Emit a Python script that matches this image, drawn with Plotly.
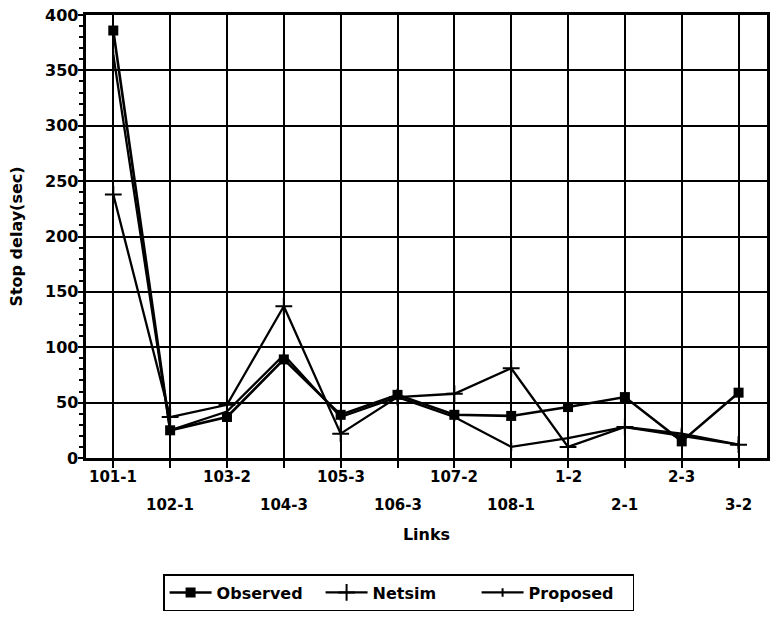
import plotly.graph_objects as go

# Links (road segments) along the x axis
links = ["101-1", "102-1", "103-2", "104-3", "105-3", "106-3",
         "107-2", "108-1", "1-2", "2-1", "2-3", "3-2"]

# Stop delay in seconds per link
observed = [386, 25, 37, 89, 39, 57, 39, 38, 46, 55, 15, 59]
netsim = [238, 37, 48, 137, 22, 55, 58, 81, 10, 28, 20, 12]
proposed = [364, 25, 42, 93, 37, 55, 37, 10, 18, 28, 22, 12]

y_ticks = [0, 50, 100, 150, 200, 250, 300, 350, 400]

FONT = "DejaVu Sans, Arial, sans-serif"
INK = "black"

fig = go.Figure()
fig.add_trace(go.Scatter(
    x=links, y=observed, name="Observed", mode="lines+markers",
    line=dict(color=INK, width=2.6),
    marker=dict(symbol="square", size=10, color=INK),
))
fig.add_trace(go.Scatter(
    x=links, y=netsim, name="Netsim", mode="lines+markers",
    line=dict(color=INK, width=2.3),
    marker=dict(symbol="cross-thin", size=12, color=INK,
                line=dict(color=INK, width=2)),
))
fig.add_trace(go.Scatter(
    x=links, y=proposed, name="Proposed", mode="lines+markers",
    line=dict(color=INK, width=2.3),
    marker=dict(symbol="line-ns", size=6, color=INK,
                line=dict(color=INK, width=2)),
))

label_font = dict(family=FONT, size=16, color=INK, weight="bold")

# Staggered category labels: even links on the first row, odd links below
annotations = []
for i, name in enumerate(links):
    annotations.append(dict(
        x=name, xref="x", y=-0.043 if i % 2 == 0 else -0.107, yref="paper",
        text=name, showarrow=False, xanchor="center", yanchor="middle",
        font=dict(family=FONT, size=15, color=INK, weight="bold"),
    ))
# Value labels sitting right against the short outside ticks
for v in y_ticks:
    annotations.append(dict(
        x=0, xref="paper", xshift=-6, y=v, yref="y",
        text=str(v), showarrow=False, xanchor="right", yanchor="middle",
        font=label_font,
    ))

fig.update_layout(
    width=771, height=622,
    margin=dict(l=86, r=1, t=15, b=164),
    paper_bgcolor="white", plot_bgcolor="white",
    font=dict(family=FONT, size=15, color=INK, weight="bold"),
    annotations=annotations,
    showlegend=True,
    legend=dict(
        orientation="h", x=0.459, xanchor="center", y=-0.262, yanchor="top",
        bordercolor=INK, borderwidth=1.5, bgcolor="white",
        font=dict(family=FONT, size=16, color=INK, weight="bold"),
        itemwidth=42, entrywidth=99, entrywidthmode="pixels",
        tracegroupgap=0,
    ),
)

fig.update_xaxes(
    type="category", range=[-0.48, 11.5],
    tickmode="array", tickvals=links, showticklabels=False,
    ticks="outside", ticklen=7, tickwidth=2, tickcolor=INK,
    showgrid=True, gridcolor=INK, gridwidth=1.9,
    showline=True, linecolor=INK, linewidth=2.8, mirror=True,
    zeroline=False,
    title=dict(text="Links", standoff=62,
               font=dict(family=FONT, size=16, color=INK, weight="bold")),
)
fig.update_yaxes(
    range=[0, 400], tickmode="array", tickvals=y_ticks,
    showticklabels=False,
    ticks="outside", ticklen=5, tickwidth=2, tickcolor=INK,
    minor=dict(dtick=10, ticks="outside", ticklen=4, tickwidth=1.5,
               tickcolor=INK, showgrid=False),
    showgrid=True, gridcolor=INK, gridwidth=1.9,
    showline=True, linecolor=INK, linewidth=2.8, mirror=True,
    zeroline=False,
    title=dict(text="Stop delay(sec)", standoff=52,
               font=dict(family=FONT, size=16, color=INK, weight="bold")),
)

fig.write_html("out.html")
